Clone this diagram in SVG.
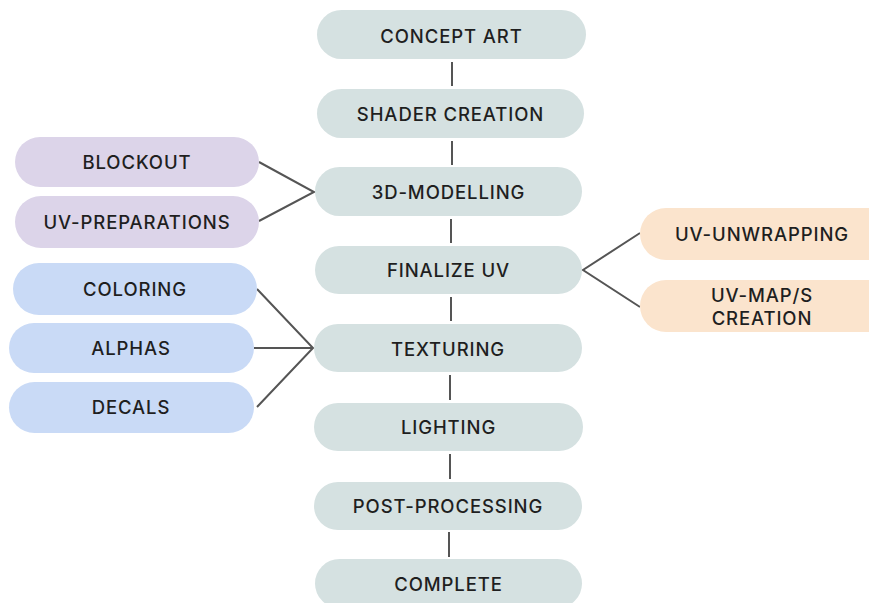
<svg xmlns="http://www.w3.org/2000/svg" width="869" height="603" viewBox="0 0 869 603">
  <style>
    .lbl { font-family: "Inter", "Noto Sans", "Liberation Sans", sans-serif; font-size: 18.5px; font-weight: 500; fill: #1f1f1f; text-anchor: middle; dominant-baseline: central; letter-spacing: 0.9px; }
    .main { fill: #d5e1e1; }
    .purple { fill: #dcd4e9; }
    .blue { fill: #c9daf6; }
    .orange { fill: #fbe4cd; }
    .conn { stroke: #555555; stroke-width: 2; fill: none; }
  </style>
  <rect width="869" height="603" fill="#ffffff"/>

  <!-- connectors -->
  <g id="connectors" class="conn">
    <line x1="452" y1="62" x2="452" y2="86"/>
    <line x1="452" y1="141" x2="452" y2="165"/>
    <line x1="451" y1="219" x2="451" y2="243"/>
    <line x1="451" y1="297" x2="451" y2="321"/>
    <line x1="450" y1="375" x2="450" y2="400"/>
    <line x1="450" y1="454" x2="450" y2="479"/>
    <line x1="449" y1="532" x2="449" y2="557"/>
    <polyline points="259,162 314,192 259,221"/>
    <polyline points="640,233 583,270 640,307"/>
    <polyline points="257,289 313,348 257,407"/>
    <line x1="254" y1="348" x2="313" y2="348"/>
  </g>

  <!-- main pipeline -->
  <g id="concept-art"><rect class="main" x="317" y="10" width="269" height="49" rx="24.5"/><text class="lbl" x="451.5" y="36">CONCEPT ART</text></g>
  <g id="shader-creation"><rect class="main" x="317" y="89" width="267" height="49" rx="24.5"/><text class="lbl" x="450.5" y="114">SHADER CREATION</text></g>
  <g id="modelling"><rect class="main" x="315" y="167" width="267" height="49" rx="24.5"/><text class="lbl" x="448.5" y="192">3D-MODELLING</text></g>
  <g id="finalize-uv"><rect class="main" x="315" y="246" width="267" height="48" rx="24"/><text class="lbl" x="448.5" y="270">FINALIZE UV</text></g>
  <g id="texturing"><rect class="main" x="314" y="324" width="268" height="48" rx="24"/><text class="lbl" x="448" y="349">TEXTURING</text></g>
  <g id="lighting"><rect class="main" x="314" y="403" width="269" height="48" rx="24"/><text class="lbl" x="448.5" y="427">LIGHTING</text></g>
  <g id="post-processing"><rect class="main" x="314" y="482" width="268" height="48" rx="24"/><text class="lbl" x="448" y="506">POST-PROCESSING</text></g>
  <g id="complete"><rect class="main" x="315" y="559" width="267" height="49" rx="24.5"/><text class="lbl" x="448.5" y="584">COMPLETE</text></g>

  <!-- modelling branches -->
  <g id="blockout"><rect class="purple" x="15" y="137" width="244" height="50" rx="25"/><text class="lbl" x="137" y="162">BLOCKOUT</text></g>
  <g id="uv-preparations"><rect class="purple" x="15" y="196" width="244" height="52" rx="26"/><text class="lbl" x="137" y="222">UV-PREPARATIONS</text></g>

  <!-- uv branches -->
  <g id="uv-unwrapping"><rect class="orange" x="640" y="208" width="260" height="52" rx="26"/><text class="lbl" x="762" y="234">UV-UNWRAPPING</text></g>
  <g id="uv-maps-creation"><rect class="orange" x="640" y="280" width="260" height="52" rx="26"/><text class="lbl" x="762" y="295">UV-MAP/S</text><text class="lbl" x="762" y="318">CREATION</text></g>

  <!-- texturing branches -->
  <g id="coloring"><rect class="blue" x="13" y="263" width="244" height="52" rx="26"/><text class="lbl" x="135" y="289">COLORING</text></g>
  <g id="alphas"><rect class="blue" x="9" y="323" width="245" height="50" rx="25"/><text class="lbl" x="131" y="348">ALPHAS</text></g>
  <g id="decals"><rect class="blue" x="9" y="382" width="245" height="51" rx="25.5"/><text class="lbl" x="131" y="407">DECALS</text></g>
</svg>
